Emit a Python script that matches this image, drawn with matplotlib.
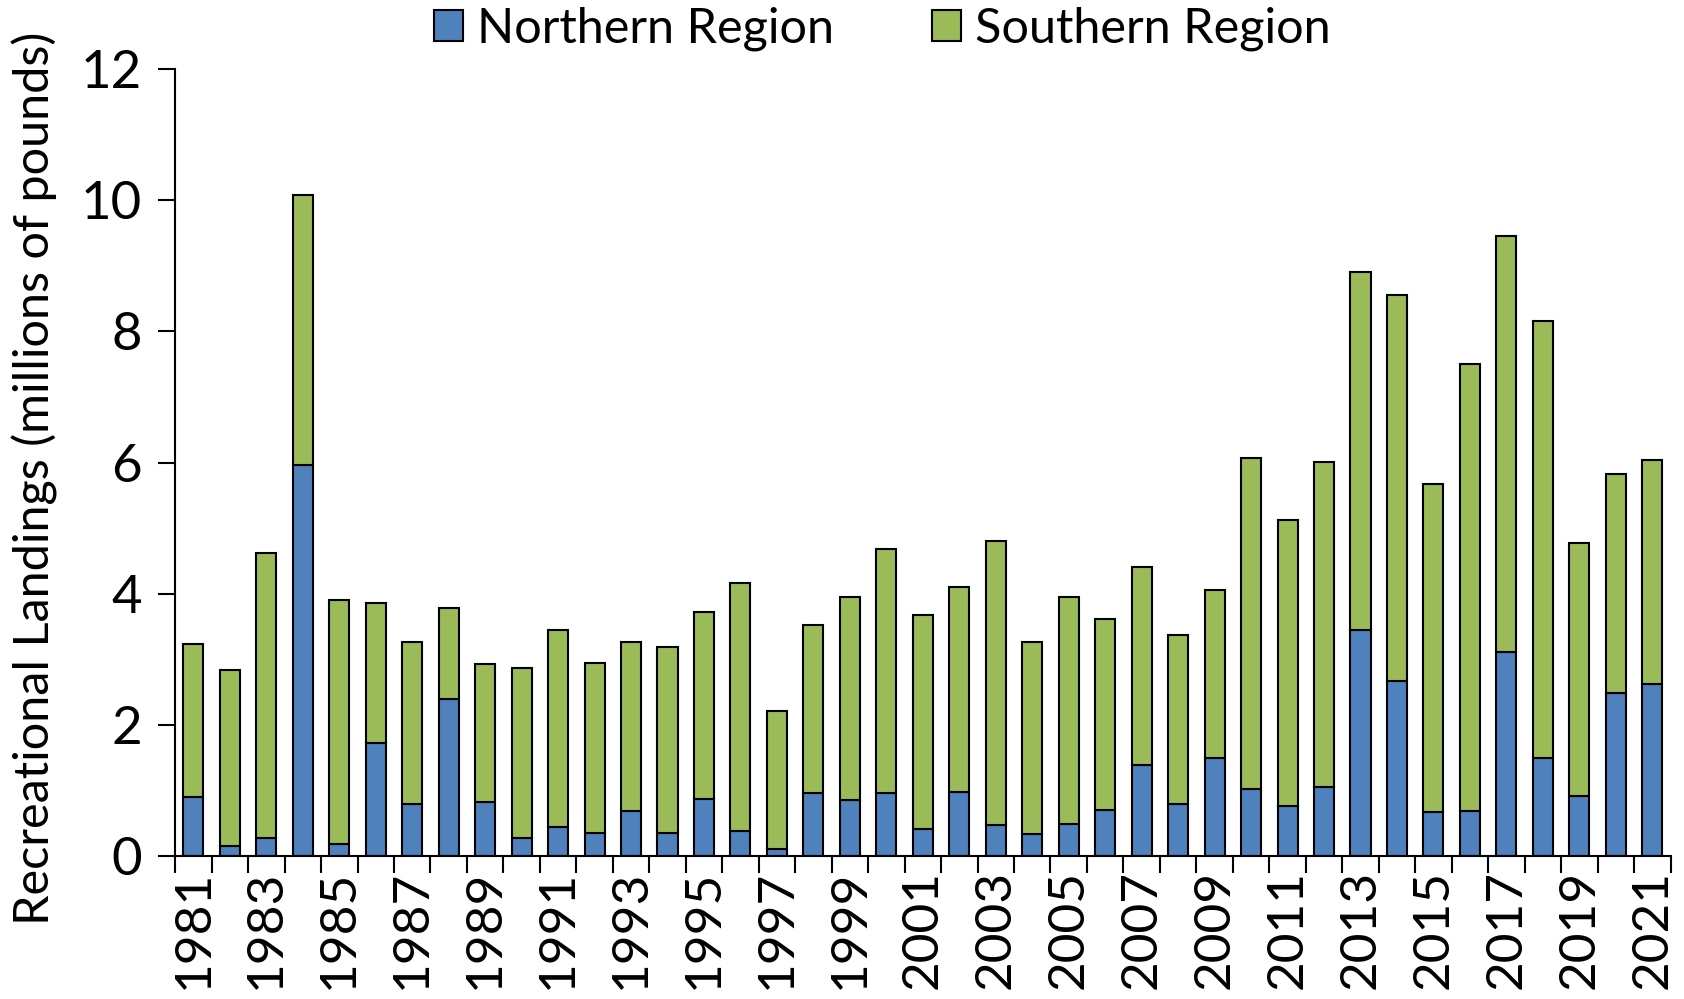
import numpy as np
import matplotlib.pyplot as plt
from matplotlib.ticker import FixedLocator, NullFormatter

plt.rcParams['font.family'] = ['Lato', 'DejaVu Sans']

years = list(range(1981, 2022))
northern = [0.90, 0.16, 0.28, 5.96, 0.18, 1.72, 0.79, 2.39, 0.83, 0.28,
            0.44, 0.36, 0.69, 0.36, 0.87, 0.39, 0.11, 0.97, 0.85, 0.97,
            0.41, 0.98, 0.47, 0.33, 0.49, 0.70, 1.39, 0.80, 1.49, 1.02,
            0.77, 1.05, 3.44, 2.67, 0.67, 0.69, 3.11, 1.49, 0.92, 2.49,
            2.62]
totals = [3.24, 2.83, 4.62, 10.08, 3.90, 3.86, 3.27, 3.78, 2.93, 2.87,
          3.44, 2.95, 3.26, 3.19, 3.72, 4.17, 2.21, 3.52, 3.95, 4.68,
          3.67, 4.11, 4.80, 3.27, 3.95, 3.62, 4.40, 3.37, 4.06, 6.07,
          5.12, 6.01, 8.91, 8.55, 5.67, 7.50, 9.46, 8.15, 4.78, 5.83,
          6.04]
southern = [t - n for t, n in zip(totals, northern)]

fig = plt.figure(figsize=(16.84, 9.99), dpi=100)
ax = fig.add_axes([0.104, 0.143, 0.888, 0.788])

x = np.arange(len(years))
w = 0.55
ax.bar(x, northern, w, color='#4F81BD', edgecolor='black', linewidth=1.5,
       label='Northern Region')
ax.bar(x, southern, w, bottom=northern, color='#9BBB59', edgecolor='black',
       linewidth=1.5, label='Southern Region')

ax.set_xlim(-0.5, len(years) - 0.5)
ax.set_ylim(0, 12)
ax.set_yticks(range(0, 13, 2))

# labels on every other year, tick marks between categories
ax.set_xticks(x[::2])
ax.set_xticklabels([str(y) for y in years[::2]], rotation=90)
ax.tick_params(axis='x', which='major', length=0, pad=10, labelsize=37)
ax.xaxis.set_minor_locator(FixedLocator(np.arange(-0.5, len(years), 1.0)))
ax.xaxis.set_minor_formatter(NullFormatter())
ax.tick_params(axis='x', which='minor', length=12, width=1.5, direction='out')
ax.tick_params(axis='y', length=12, width=1.5, direction='out', pad=12,
               labelsize=38)

for side in ['top', 'right']:
    ax.spines[side].set_visible(False)
ax.spines['left'].set_linewidth(1.5)
ax.spines['bottom'].set_linewidth(1.5)

ax.set_ylabel('Recreational Landings (millions of pounds)', fontsize=35)
ax.yaxis.set_label_coords(-0.078, 0.48)

leg = fig.legend(loc='upper center', bbox_to_anchor=(0.524, 1.037), ncol=2,
                 frameon=False, fontsize=35, handlelength=0.6,
                 handleheight=0.6, columnspacing=2.0, handletextpad=0.3)

fig.savefig('out.png', dpi=100)
